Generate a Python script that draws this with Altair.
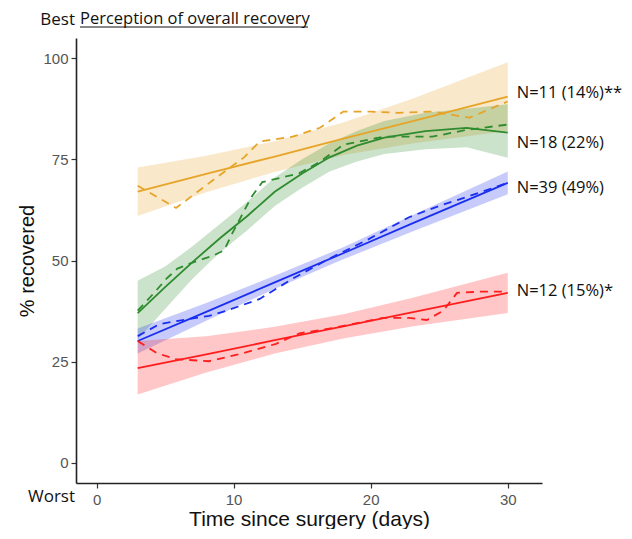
import altair as alt
import pandas as pd

# ---- data ----
groups = ["orange", "green", "blue", "red"]
colors = ["#E6A428", "#2E8B2E", "#1A2EF0", "#FF1E1E"]

# fitted lines + confidence bands
orange_fit_x = [3, 8, 13, 18, 23, 30]
orange_fit_y = [67.0, 71.4, 75.7, 80.1, 84.4, 90.5]
orange_lo = [61.0, 66.9, 71.9, 76.1, 78.9, 82.0]
orange_hi = [73.0, 75.9, 79.5, 84.1, 89.9, 99.0]

green_fit_x = [3, 5, 7, 9, 11, 13, 15, 17, 19, 21, 24, 27, 30]
green_fit_y = [37.0, 43.4, 49.6, 55.5, 61.0, 67.0, 71.5, 75.5, 78.4, 80.4, 82.0, 82.8, 81.6]
green_lo = [30.5, 38.0, 45.5, 52.0, 57.5, 63.5, 68.0, 72.0, 74.5, 76.3, 77.5, 78.0, 75.4]
green_hi = [45.0, 48.5, 53.5, 59.0, 64.5, 70.5, 75.0, 79.0, 82.0, 84.5, 86.5, 87.5, 88.6]

blue_fit_x = [3, 8, 13, 18, 23, 30]
blue_fit_y = [30.1, 37.3, 44.6, 51.8, 59.1, 69.2]
blue_lo = [27.0, 35.1, 43.0, 50.3, 57.1, 66.4]
blue_hi = [33.2, 39.5, 46.2, 53.3, 61.1, 72.0]

red_fit_x = [3, 8, 13, 18, 23, 30]
red_fit_y = [23.4, 26.8, 30.3, 33.7, 37.2, 42.0]
red_lo = [16.9, 22.3, 27.0, 30.7, 33.7, 37.0]
red_hi = [30.1, 31.3, 33.6, 36.7, 40.7, 47.0]

# dashed (observed) series
orange_obs_x = [3, 5.8, 9.7, 10.8, 11.9, 13.1, 14.3, 16.3, 18, 20, 22, 24.5, 27.2, 30]
orange_obs_y = [68.5, 63.0, 72.9, 75.6, 79.4, 80.0, 80.6, 82.8, 86.8, 86.8, 86.5, 86.8, 85.3, 89.3]
green_obs_x = [3, 4.2, 5.1, 5.9, 7, 8.5, 9.3, 9.9, 11.3, 12.1, 13.4, 14.8, 16.3, 18, 20.9, 24.5, 27, 30]
green_obs_y = [37.6, 42.0, 45.5, 48.0, 49.5, 51.2, 52.5, 56.7, 65.7, 69.4, 70.4, 71.6, 74.4, 78.6, 80.6, 80.6, 82.3, 83.6]
blue_obs_x = [3, 4.6, 5.8, 8.2, 9.5, 11.9, 14.3, 17, 19.7, 22.8, 25, 27, 30]
blue_obs_y = [31.3, 34.3, 35.0, 36.3, 37.6, 40.5, 45.5, 50.5, 55.0, 60.7, 63.5, 65.7, 69.2]
red_obs_x = [3, 4.4, 5.8, 8.2, 10.7, 13.1, 14.8, 17.2, 20.9, 22.8, 24.1, 25.3, 26.3, 28, 30]
red_obs_y = [30.1, 27.1, 25.6, 25.1, 27.1, 29.4, 32.0, 33.3, 35.8, 35.8, 35.3, 37.6, 42.0, 42.3, 42.3]

labels = ["N=11 (14%)**", "N=18 (22%)", "N=39 (49%)", "N=12 (15%)*"]
label_y = [91.5, 79.0, 68.0, 42.5]
label_x = 30

fits = {
    "orange": (orange_fit_x, orange_fit_y, orange_lo, orange_hi),
    "green": (green_fit_x, green_fit_y, green_lo, green_hi),
    "blue": (blue_fit_x, blue_fit_y, blue_lo, blue_hi),
    "red": (red_fit_x, red_fit_y, red_lo, red_hi),
}
obs = {
    "orange": (orange_obs_x, orange_obs_y),
    "green": (green_obs_x, green_obs_y),
    "blue": (blue_obs_x, blue_obs_y),
    "red": (red_obs_x, red_obs_y),
}

fit_rows = []
for g, (xs_, ys_, lo, hi) in fits.items():
    for a, b, c, d in zip(xs_, ys_, lo, hi):
        fit_rows.append({"g": g, "x": a, "y": b, "lo": c, "hi": d})
fit_df = pd.DataFrame(fit_rows)

obs_rows = []
for g, (xs_, ys_) in obs.items():
    for a, b in zip(xs_, ys_):
        obs_rows.append({"g": g, "x": a, "y": b})
obs_df = pd.DataFrame(obs_rows)

lab_df = pd.DataFrame({"g": groups, "x": [label_x] * 4, "y": label_y, "t": labels})

xs = alt.Scale(domain=[-1.5, 32.5], nice=False, zero=False)
ys = alt.Scale(domain=[-5, 105], nice=False, zero=False)
cs = alt.Scale(domain=groups, range=colors)

X = alt.X("x:Q", scale=xs, axis=alt.Axis(
    values=[0, 10, 20, 30], title="Time since surgery (days)", grid=False,
    domainColor="#222222", domainWidth=1.6, tickColor="#333333", tickSize=5, tickWidth=1.2,
    labelColor="#555555", labelFontSize=15, labelFont="Liberation Sans", labelPadding=4,
    titleFont="Liberation Sans", titleFontSize=21, titleFontWeight="normal", titleColor="#111111",
    titlePadding=1))
Y = alt.Y("y:Q", scale=ys, axis=alt.Axis(
    values=[0, 25, 50, 75, 100], title="% recovered", grid=False,
    domainColor="#222222", domainWidth=1.6, tickColor="#333333", tickSize=5, tickWidth=1.2,
    labelColor="#555555", labelFontSize=15, labelFont="Liberation Sans", labelPadding=3,
    titleFont="Liberation Sans", titleFontSize=20, titleFontWeight="normal", titleColor="#111111",
    titlePadding=5))

base_fit = alt.Chart(fit_df)
bands = base_fit.mark_area(opacity=0.25).encode(
    x=X, y=alt.Y("lo:Q", scale=ys), y2="hi:Q",
    color=alt.Color("g:N", scale=cs, legend=None))
solid = base_fit.mark_line(strokeWidth=1.8).encode(
    x=X, y=Y, color=alt.Color("g:N", scale=cs, legend=None))
dashed = alt.Chart(obs_df).mark_line(strokeWidth=1.8, strokeDash=[8, 6]).encode(
    x=alt.X("x:Q", scale=xs), y=alt.Y("y:Q", scale=ys),
    color=alt.Color("g:N", scale=cs, legend=None))
labs = alt.Chart(lab_df).mark_text(align="left", baseline="middle", dx=9, fontSize=16.5,
                                   font="Open Sans", color="#111111").encode(
    x=alt.X("x:Q", scale=xs), y=alt.Y("y:Q", scale=ys), text="t:N")

ann = pd.DataFrame({"t": ["Perception of overall recovery"]})
title_txt = alt.Chart(ann).mark_text(align="left", baseline="alphabetic", fontSize=16.5,
                                     font="Open Sans", color="#111111").encode(
    x=alt.value(4), y=alt.value(-14.5), text="t:N")
underline = alt.Chart(ann).mark_rule(color="#111111", strokeWidth=1.2).encode(
    x=alt.value(4), x2=alt.value(232), y=alt.value(-11))
best = alt.Chart(pd.DataFrame({"t": ["Best"]})).mark_text(
    align="right", baseline="alphabetic", fontSize=17, font="Open Sans", color="#111111").encode(
    x=alt.value(-1), y=alt.value(-13), text="t:N")
worst = alt.Chart(pd.DataFrame({"t": ["Worst"]})).mark_text(
    align="right", baseline="middle", fontSize=17, font="Open Sans", color="#111111").encode(
    x=alt.value(-1), y=alt.value(459), text="t:N")

chart = alt.layer(bands, solid, dashed, labs, title_txt, underline, best, worst).properties(
    width=466, height=445,
    padding={"left": 68, "top": 30, "right": 82, "bottom": 46},
    autosize=alt.AutoSizeParams(type="none"),
).configure(background="white").configure_view(stroke=None)

chart.save("out.html", embed_options={"renderer": "svg", "actions": False})
